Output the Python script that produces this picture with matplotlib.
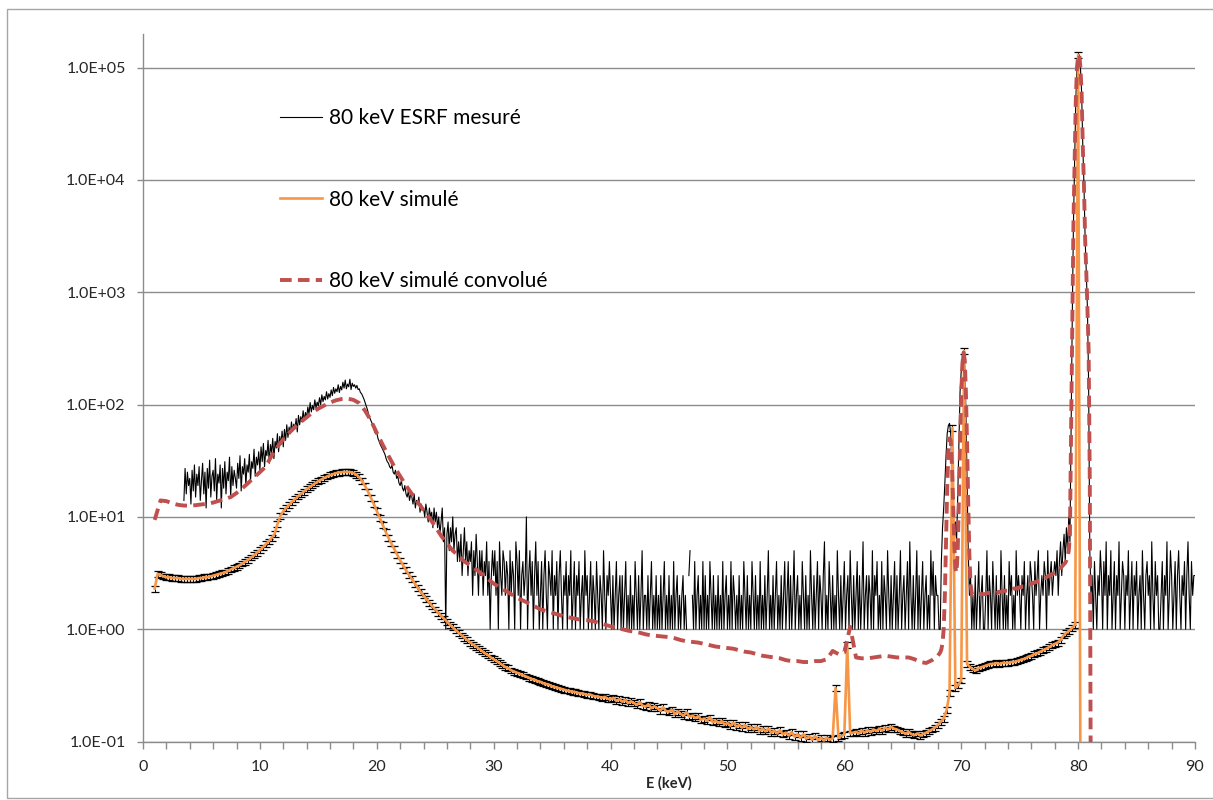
import numpy as np
import matplotlib
matplotlib.use("Agg")
import matplotlib.pyplot as plt
from matplotlib.ticker import FixedLocator, MultipleLocator, NullLocator, FuncFormatter
from matplotlib.patches import Rectangle

plt.rcParams['font.family'] = ['Lato', 'DejaVu Sans']

# measured spectrum (counts / 0.1 keV bin), one line per keV: start energy then counts
# 0 = empty bin (not drawn on the log axis)
meas_rows = """
3.5 14 27 16 25 19
4.0 22 13 26 17 29 15 24 19 28 14
5.0 21 30 16 25 12 27 18 32 15 23
6.0 26 17 33 14 24 20 29 12 27 18
7.0 31 16 25 21 34 15 28 19 26 22
8.0 18 30 22 35 17 28 24 33 19 29
9.0 25 36 21 31 27 40 23 34 29 38
10.0 26 42 31 45 28 39 35 48 30 44
11.0 37 50 33 47 41 55 38 52 44 58
12.0 42 60 48 66 51 63 55 70 58 67
13.0 61 75 57 80 66 78 70 88 72 85
14.0 76 95 82 104 86 98 90 110 93 105
15.0 97 115 100 122 106 118 110 130 112 125
16.0 116 135 120 142 126 138 130 150 128 145
17.0 135 158 140 165 138 152 144 168 136 155
18.0 145 150 140 148 136 138 128 125 118 112
19.0 104 96 90 82 76 72 68 63 58 55
20.0 56 50 47 44 42 40 38 36 33 31
21.0 30 28 27 29 25 24 26 22 23 20
22.0 19 21 18 17 19 16 15 17 14 16
23.0 15 13 16 12 14 13 15 11 13 12
24.0 12 10 13 11 9 12 10 11 8 12
25.0 9 11 8 10 7 9 12 6 8 1
26.0 7 9 5 8 6 10 5 7 8 4
27.0 6 4 7 3 5 8 4 6 3 5
28.0 4 6 2 5 3 7 4 2 5 3
29.0 5 2 4 3 6 2 4 1 3 5
30.0 3 5 2 4 1 6 3 2 5 4
31.0 2 4 3 1 5 2 4 3 1 6
32.0 4 2 5 1 3 4 2 3 10 1
33.0 3 5 2 4 1 3 6 2 4 1
34.0 2 4 1 3 5 2 1 4 3 2
35.0 5 1 3 2 4 1 3 5 2 1
36.0 3 2 4 1 3 2 5 1 2 4
37.0 1 3 2 4 1 2 3 1 5 2
38.0 3 1 2 4 1 3 2 1 4 2
39.0 1 3 2 1 5 2 1 3 2 4
40.0 2 1 3 1 2 4 1 2 3 1
41.0 3 1 2 4 1 2 1 3 1 2
42.0 1 4 2 1 3 1 2 5 1 2
43.0 2 1 3 1 2 4 1 2 1 3
44.0 1 2 1 3 1 2 4 1 2 1
45.0 3 1 2 1 4 1 2 3 1 2
46.0 1 2 3 1 2 1 0 3 5 0
47.0 2 1 4 1 2 3 1 2 1 4
48.0 1 3 1 2 1 4 2 1 3 1
49.0 2 1 3 1 2 1 4 1 2 3
50.0 1 2 1 4 1 3 2 1 2 1
51.0 3 1 2 1 4 2 1 3 1 2
52.0 1 4 2 1 3 1 2 1 4 1
53.0 2 1 3 1 2 5 1 2 1 3
54.0 1 2 4 1 2 1 3 1 2 4
55.0 1 2 4 1 3 1 2 5 1 2
56.0 3 1 2 1 4 2 1 3 1 2
57.0 1 5 2 1 3 1 2 4 1 3
58.0 2 1 3 6 1 2 1 4 2 1
59.0 3 1 2 1 5 2 1 3 1 2
60.0 4 1 2 3 1 5 2 1 3 1
61.0 2 4 1 3 1 2 6 1 2 3
62.0 1 3 2 1 5 1 3 2 4 1
63.0 2 1 4 1 3 2 1 5 2 1
64.0 3 1 2 4 1 3 1 2 5 1
65.0 2 3 1 2 4 1 6 2 1 3
66.0 1 2 5 1 3 1 2 4 1 2
67.0 3 1 2 1 5 2 4 1 3 2
68.0 2 1 1 4 8 12 20 35 55 65
69.0 68 55 30 12 8 9 6 15 45 130
70.0 200 280 300 220 90 20 5 2 3 1
71.0 2 1 3 1 2 4 1 2 3 1
72.0 1 2 5 1 3 2 1 4 2 1
73.0 3 1 2 1 5 2 1 3 1 2
74.0 1 4 2 3 1 2 1 5 2 3
75.0 2 1 3 2 4 1 2 3 1 4
76.0 3 2 1 4 2 3 5 1 2 3
77.0 2 4 3 1 5 2 3 4 2 3
78.0 4 3 5 2 4 6 3 5 7 4
79.0 8 5 10 6 60 600 4000 15000 50000 100000
80.0 125000 130000 100000 60000 20000 9000 3000 1500 700 150
81.0 5 2 3 1 4 2 1 3 2 5
82.0 3 1 4 2 6 1 3 2 5 1
83.0 2 4 1 3 2 6 1 2 4 3
84.0 1 3 2 5 1 2 4 1 3 2
85.0 4 1 2 3 1 5 2 1 3 4
86.0 2 3 1 6 2 1 4 2 3 1
87.0 1 2 4 1 3 2 6 1 2 5
88.0 3 1 2 4 1 3 5 2 1 3
89.0 2 4 1 3 6 2 1 4 2 3
90.0 3
"""

# simulated spectrum, 0.25 keV bins starting at 1.0 keV
sim_start, sim_step = 1.0, 0.25
sim_val = [
    2.3, 3.1, 3.05, 2.95,  2.9, 2.9, 2.85, 2.85,  2.85, 2.8, 2.8, 2.8,
    2.8, 2.8, 2.8, 2.85,  2.85, 2.9, 2.9, 2.95,  3.0, 3.05, 3.1, 3.15,
    3.2, 3.3, 3.4, 3.5,  3.6, 3.7, 3.85, 4.0,  4.15, 4.35, 4.55, 4.8,
    5.05, 5.35, 5.7, 6.05,  6.5, 7.0, 8.6, 10.2,  11.2, 12.0, 12.8, 13.6,
    14.4, 15.2, 16.0, 16.8,  17.6, 18.4, 19.2, 20.0,  20.8, 21.5, 22.2, 22.9,
    23.5, 24.0, 24.5, 24.8,  25.0, 25.1, 25.1, 25.0,  24.6, 23.8, 22.5, 20.8,
    18.8, 16.8, 14.8, 13.0,  11.3, 9.8, 8.5, 7.4,  6.5, 5.8, 5.2, 4.6,
    4.1, 3.7, 3.35, 3.05,  2.8, 2.55, 2.35, 2.15,  2.0, 1.85, 1.72, 1.6,
    1.5, 1.4, 1.32, 1.24,  1.17, 1.1, 1.04, 0.98,  0.93, 0.88, 0.84, 0.8,
    0.76, 0.73, 0.7, 0.67,  0.64, 0.61, 0.59, 0.56,  0.54, 0.52, 0.5, 0.48,
    0.46, 0.45, 0.43, 0.42,  0.41, 0.4, 0.39, 0.38,  0.37, 0.36, 0.355, 0.345,
    0.34, 0.33, 0.325, 0.32,  0.31, 0.305, 0.3, 0.295,  0.29, 0.285, 0.28, 0.278,
    0.275, 0.27, 0.268, 0.265,  0.26, 0.262, 0.255, 0.252,  0.25, 0.245, 0.25, 0.24,
    0.238, 0.245, 0.23, 0.238,  0.226, 0.235, 0.22, 0.228,  0.22, 0.212, 0.224, 0.208,
    0.205, 0.214, 0.198, 0.206,  0.198, 0.188, 0.202, 0.186,  0.185, 0.192, 0.176, 0.185,
    0.176, 0.17, 0.182, 0.166,  0.17, 0.162, 0.168, 0.156,  0.16, 0.153, 0.164, 0.148,
    0.153, 0.146, 0.152, 0.142,  0.146, 0.138, 0.147, 0.136,  0.14, 0.133, 0.14, 0.13,
    0.134, 0.128, 0.135, 0.125,  0.13, 0.123, 0.13, 0.12,  0.125, 0.118, 0.126, 0.116,
    0.12, 0.113, 0.121, 0.11,  0.116, 0.108, 0.116, 0.106,  0.111, 0.104, 0.112, 0.103,
    0.108, 0.102, 0.108, 0.104,  0.106, 0.3, 0.108, 0.112,  0.115, 0.72, 0.118, 0.12,
    0.122, 0.118, 0.125, 0.12,  0.126, 0.121, 0.128, 0.124,  0.13, 0.125, 0.133, 0.128,
    0.135, 0.13, 0.128, 0.124,  0.121, 0.117, 0.122, 0.116,  0.114, 0.118, 0.113, 0.117,
    0.12, 0.124, 0.128, 0.133,  0.14, 0.15, 0.16, 0.19,  0.27, 62, 0.3, 0.32,
    0.35, 300, 0.49, 0.46,  0.44, 0.43, 0.45, 0.46,  0.47, 0.48, 0.49, 0.49,
    0.5, 0.49, 0.5, 0.5,  0.5, 0.51, 0.51, 0.52,  0.53, 0.54, 0.55, 0.57,
    0.58, 0.6, 0.61, 0.63,  0.65, 0.67, 0.69, 0.72,  0.74, 0.76, 0.8, 0.88,
    0.93, 0.97, 1.03, 1.1,  130000, 0.001,
]
sim_rel_err = 0.06

# convolved simulation: 0.5 keV bins from 1.0 to 67.5 keV, then 0.1 keV bins from 68.0 keV
conv_lo_start, conv_lo_step = 1.0, 0.5
conv_lo = [
    9.4, 14, 13.8, 13.2, 12.8, 12.6, 12.6, 12.7, 12.9, 13.1,
    13.4, 13.9, 14.4, 15, 16.3, 18, 20, 22.5, 25, 28,
    35, 42, 49, 56, 63, 70, 77, 85, 92, 98,
    104, 109, 112, 113, 110, 103, 88, 72, 56, 44,
    35, 28, 23, 19, 16, 13.5, 11.5, 9.8, 8.2, 6.8,
    5.8, 5.0, 4.5, 4.0, 3.7, 3.4, 3.1, 2.8, 2.55, 2.35,
    2.2, 2.05, 1.9, 1.8, 1.7, 1.6, 1.5, 1.45, 1.4, 1.35,
    1.3, 1.27, 1.24, 1.21, 1.2, 1.18, 1.14, 1.1, 1.06, 1.03,
    1.0, 0.97, 0.95, 0.93, 0.9, 0.88, 0.87, 0.86, 0.85, 0.83,
    0.8, 0.78, 0.77, 0.76, 0.74, 0.72, 0.7, 0.69, 0.68, 0.67,
    0.65, 0.63, 0.62, 0.6, 0.58, 0.57, 0.56, 0.55, 0.53, 0.52,
    0.52, 0.51, 0.51, 0.52, 0.52, 0.54, 0.64, 0.6, 0.62, 1.05,
    0.56, 0.55, 0.55, 0.56, 0.57, 0.58, 0.57, 0.56, 0.56, 0.56,
    0.54, 0.51, 0.5, 0.53,
]
conv_hi_start, conv_hi_step = 68.0, 0.1
conv_hi = [
    0.58, 0.6, 0.62, 0.66, 0.75, 1.0, 2.0, 6, 18, 38,
    50, 48, 30, 14, 6, 3.5, 3.2, 5, 14, 45,
    120, 230, 290, 250, 130, 45, 13, 4.5, 2.5, 2.1,
    2.0, 2.0, 2.0, 2.05, 2.05, 2.05, 2.05, 2.05, 2.05, 2.05,
    2.05, 2.05, 2.1, 2.1, 2.1, 2.1, 2.1, 2.1, 2.1, 2.1,
    2.1, 2.1, 2.15, 2.15, 2.15, 2.15, 2.2, 2.2, 2.2, 2.2,
    2.2, 2.2, 2.25, 2.25, 2.25, 2.3, 2.3, 2.3, 2.3, 2.35,
    2.35, 2.35, 2.4, 2.4, 2.4, 2.45, 2.45, 2.5, 2.5, 2.5,
    2.55, 2.55, 2.6, 2.6, 2.65, 2.65, 2.7, 2.7, 2.75, 2.75,
    2.8, 2.85, 2.85, 2.9, 2.95, 3.0, 3.0, 3.05, 3.1, 3.15,
    3.2, 3.25, 3.3, 3.35, 3.4, 3.5, 3.6, 3.7, 3.8, 3.9,
    4.1, 4.4, 5.0, 7, 60, 600, 4000, 15000, 50000, 100000,
    125000, 130000, 100000, 60000, 20000, 9000, 3000, 1500, 700, 300,
    20, 0.01,
]

y_ticks = [1e-1, 1e0, 1e1, 1e2, 1e3, 1e4, 1e5]
labels = ['80 keV ESRF mesuré', '80 keV simulé', '80 keV simulé convolué']

# ---- build arrays
meas_e, meas_val = [], []
for line in meas_rows.strip().splitlines():
    parts = line.split()
    e0 = float(parts[0])
    for i, v in enumerate(parts[1:]):
        meas_e.append(e0 + 0.1 * i)
        meas_val.append(float(v) if v != '0' else np.nan)

sim_val = np.array(sim_val)
sim_e = sim_start + sim_step * np.arange(len(sim_val))
conv_e = np.concatenate([conv_lo_start + conv_lo_step * np.arange(len(conv_lo)),
                         conv_hi_start + conv_hi_step * np.arange(len(conv_hi))])
conv_val = np.array(conv_lo + conv_hi)

W, H = 1213, 800
fig = plt.figure(figsize=(W / 100, H / 100), dpi=100)
ax = fig.add_axes([143 / W, 1 - 741.5 / H, (1195 - 143) / W, (741.5 - 34) / H])
ax.set_yscale('log')

ax.plot(meas_e, meas_val, color='black', lw=0.8, label=labels[0], zorder=3)
ax.errorbar(sim_e, sim_val, yerr=sim_val * sim_rel_err, fmt='none', ecolor='black',
            elinewidth=0.7, capsize=3, capthick=0.9, zorder=4)
ax.plot(sim_e, sim_val, color='#F79646', lw=1.9, label=labels[1], zorder=5)
ax.plot(conv_e, conv_val, color='#C0504D', lw=2.8, ls=(0, (3, 1.6)), label=labels[2], zorder=6)

ax.set_xlim(0, 90)
ax.set_ylim(0.1, 1.99e5)

grey = '#8c8c8c'
for s in ['top', 'right']:
    ax.spines[s].set_visible(False)
for s in ['left', 'bottom']:
    ax.spines[s].set_color(grey)
    ax.spines[s].set_linewidth(1)
ax.yaxis.grid(True, color=grey, lw=1)
ax.set_axisbelow(True)

ax.yaxis.set_major_locator(FixedLocator(y_ticks))
ax.yaxis.set_minor_locator(NullLocator())
ax.yaxis.set_major_formatter(FuncFormatter(lambda v, p: f"{v:.1E}"))
ax.xaxis.set_major_locator(MultipleLocator(10))
ax.xaxis.set_minor_locator(MultipleLocator(2))
ax.tick_params(axis='both', which='both', direction='out', color=grey, width=1,
               labelsize=11.5, labelcolor='#262626')
ax.tick_params(axis='y', length=4.5, pad=8)
ax.tick_params(axis='x', which='both', length=5, pad=8)

ax.set_xlabel('E (keV)', fontweight='bold', fontsize=10.5, color='#262626', labelpad=2)

ax.legend(loc='upper left', bbox_to_anchor=(280 / W, 1 - 108 / H), bbox_transform=fig.transFigure,
          frameon=False, fontsize=15, handlelength=2.0, handletextpad=0.35,
          labelspacing=2.96, borderpad=0, borderaxespad=0)

fig.patches.append(Rectangle((6.5 / W, 2 / H), 1.0, (798 - 8.5) / H, transform=fig.transFigure,
                             fill=False, edgecolor='#a6a6a6', lw=1))

fig.savefig('out.png', dpi=100)
